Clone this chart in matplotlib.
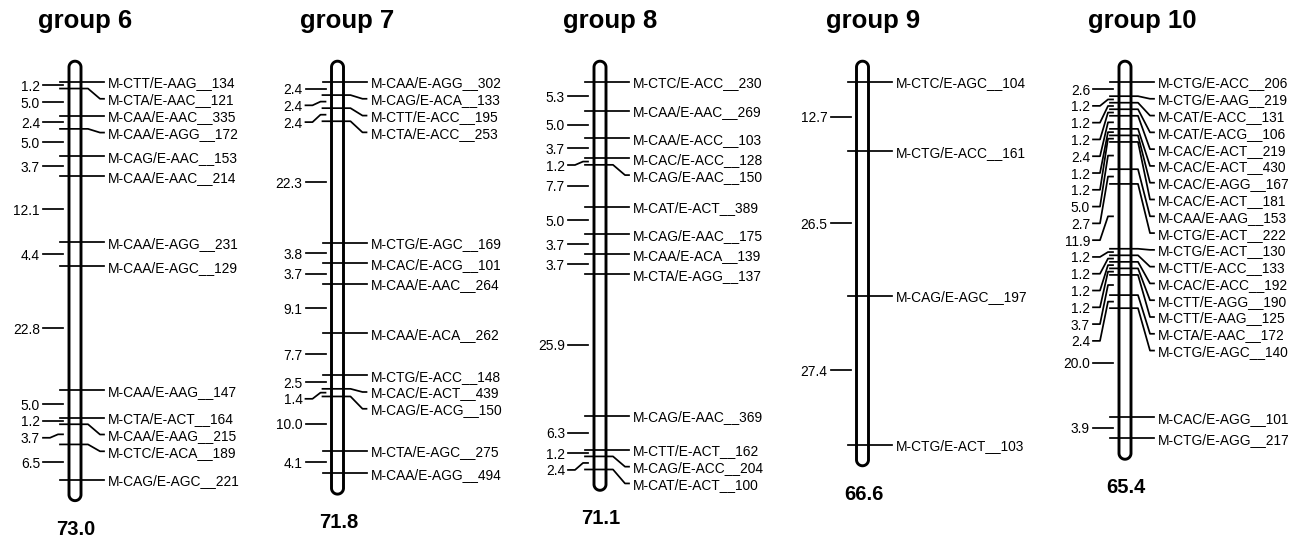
import numpy as np
import matplotlib.pyplot as plt
from matplotlib import transforms

plt.rcParams['font.family'] = ['Liberation Sans', 'DejaVu Sans']

# linkage groups: distances (cM) between neighbouring markers, marker names
group_names = ['group 6', 'group 7', 'group 8', 'group 9', 'group 10']

g6_intervals = [1.2, 5.0, 2.4, 5.0, 3.7, 12.1, 4.4, 22.8, 5.0, 1.2, 3.7, 6.5]
g6_markers = ['M-CTT/E-AAG__134', 'M-CTA/E-AAC__121', 'M-CAA/E-AAC__335',
              'M-CAA/E-AGG__172', 'M-CAG/E-AAC__153', 'M-CAA/E-AAC__214',
              'M-CAA/E-AGG__231', 'M-CAA/E-AGC__129', 'M-CAA/E-AAG__147',
              'M-CTA/E-ACT__164', 'M-CAA/E-AAG__215', 'M-CTC/E-ACA__189',
              'M-CAG/E-AGC__221']

g7_intervals = [2.4, 2.4, 2.4, 22.3, 3.8, 3.7, 9.1, 7.7, 2.5, 1.4, 10.0, 4.1]
g7_markers = ['M-CAA/E-AGG__302', 'M-CAG/E-ACA__133', 'M-CTT/E-ACC__195',
              'M-CTA/E-ACC__253', 'M-CTG/E-AGC__169', 'M-CAC/E-ACG__101',
              'M-CAA/E-AAC__264', 'M-CAA/E-ACA__262', 'M-CTG/E-ACC__148',
              'M-CAC/E-ACT__439', 'M-CAG/E-ACG__150', 'M-CTA/E-AGC__275',
              'M-CAA/E-AGG__494']

g8_intervals = [5.3, 5.0, 3.7, 1.2, 7.7, 5.0, 3.7, 3.7, 25.9, 6.3, 1.2, 2.4]
g8_markers = ['M-CTC/E-ACC__230', 'M-CAA/E-AAC__269', 'M-CAA/E-ACC__103',
              'M-CAC/E-ACC__128', 'M-CAG/E-AAC__150', 'M-CAT/E-ACT__389',
              'M-CAG/E-AAC__175', 'M-CAA/E-ACA__139', 'M-CTA/E-AGG__137',
              'M-CAG/E-AAC__369', 'M-CTT/E-ACT__162', 'M-CAG/E-ACC__204',
              'M-CAT/E-ACT__100']

g9_intervals = [12.7, 26.5, 27.4]
g9_markers = ['M-CTC/E-AGC__104', 'M-CTG/E-ACC__161', 'M-CAG/E-AGC__197',
              'M-CTG/E-ACT__103']

g10_intervals = [2.6, 1.2, 1.2, 1.2, 2.4, 1.2, 1.2, 5.0, 2.7, 11.9,
                 1.2, 1.2, 1.2, 1.2, 3.7, 2.4, 20.0, 3.9]
g10_markers = ['M-CTG/E-ACC__206', 'M-CTG/E-AAG__219', 'M-CAT/E-ACC__131',
               'M-CAT/E-ACG__106', 'M-CAC/E-ACT__219', 'M-CAC/E-ACT__430',
               'M-CAC/E-AGG__167', 'M-CAC/E-ACT__181', 'M-CAA/E-AAG__153',
               'M-CTG/E-ACT__222', 'M-CTG/E-ACT__130', 'M-CTT/E-ACC__133',
               'M-CAC/E-ACC__192', 'M-CTT/E-AGG__190', 'M-CTT/E-AAG__125',
               'M-CTA/E-AAC__172', 'M-CTG/E-AGC__140', 'M-CAC/E-AGG__101',
               'M-CTG/E-AGG__217']

groups = [(g6_intervals, g6_markers), (g7_intervals, g7_markers),
          (g8_intervals, g8_markers), (g9_intervals, g9_markers),
          (g10_intervals, g10_markers)]

PX_CM = 5.45      # pixels per cM
TOP = 82          # pixel row of 0 cM
W, H = 1292, 540
GAP = 3.08        # min label spacing in cM
LW = 1.25
FS = 9.9


def spread(pos, gap):
    # push labels down so they don't overlap
    out = []
    for p in pos:
        if out and p < out[-1] + gap:
            p = out[-1] + gap
        out.append(p)
    return np.array(out)


fig = plt.figure(figsize=(W / 100, H / 100), dpi=100)
ax = fig.add_axes([0, 0, 1, 1])
ax.set_xlim(0, W)
ax.set_ylim((H - TOP) / PX_CM, -TOP / PX_CM)
ax.axis('off')
top_tr = transforms.blended_transform_factory(ax.transData, ax.transAxes)

r = 6.0
r_cm = r / PX_CM
pad = 14.8 / PX_CM

for i, (name, (iv, mk)) in enumerate(zip(group_names, groups)):
    cx = 75 + 262.5 * i
    iv = np.array(iv)
    pos = np.concatenate([[0], np.cumsum(iv)])
    total = pos[-1]

    # chromosome outline (capsule)
    y0, y1 = -pad, total + pad
    t = np.linspace(np.pi, 0, 40)
    bx = cx + r * np.cos(t)
    by = y1 + r_cm * np.sin(t)
    t2 = np.linspace(0, -np.pi, 40)
    tx = cx + r * np.cos(t2)
    ty = y0 + r_cm * np.sin(t2)
    xs = np.concatenate([[cx - r], bx, tx, [cx - r]])
    ys = np.concatenate([[y0], by, ty, [y0]])
    ax.fill(xs, ys, facecolor='white', edgecolor='black', lw=2.1, zorder=1)

    # markers on the right
    lab = spread(pos, GAP)
    for p, l, m in zip(pos, lab, mk):
        if abs(l - p) < 0.05:
            ax.plot([cx - 15, cx + 29], [p, p], color='black', lw=LW, zorder=2)
        else:
            ax.plot([cx - 15, cx + 13, cx + 25, cx + 29], [p, p, l, l],
                    color='black', lw=LW, zorder=2)
        ax.text(cx + 33, l, m, ha='left', va='center_baseline', fontsize=FS)

    # distances on the left
    mids = pos[:-1] + iv / 2
    lab = spread(mids, GAP)
    for m, l, d in zip(mids, lab, iv):
        if abs(l - m) < 0.05:
            ax.plot([cx - 32, cx - 12], [m, m], color='black', lw=LW, zorder=2)
        else:
            ax.plot([cx - 32, cx - 25, cx - 17, cx - 12], [l, l, m, m],
                    color='black', lw=LW, zorder=2)
        ax.text(cx - 35, l, f'{d:.1f}', ha='right', va='center_baseline',
                fontsize=FS)

    ax.text(cx - 37, 1 - 28 / H, name, transform=top_tr, ha='left',
            va='baseline', fontsize=18.5, fontweight='bold')
    ax.text(cx + 1, total + 55 / PX_CM, f'{total:.1f}', ha='center',
            va='baseline', fontsize=14.5, fontweight='bold')

fig.savefig('out.png', dpi=100)
